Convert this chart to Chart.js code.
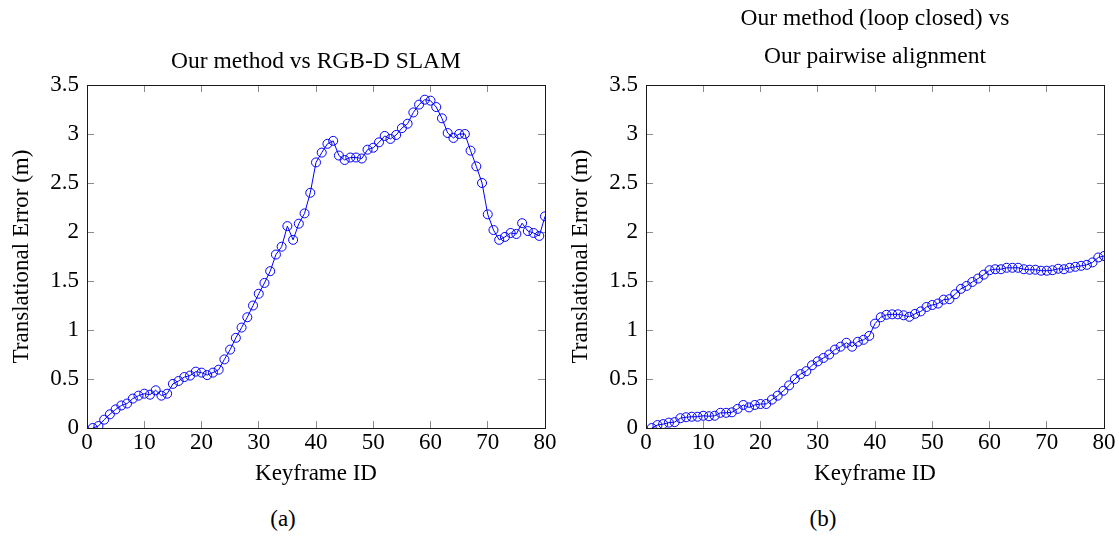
<!DOCTYPE html>
<html>
<head>
<meta charset="utf-8">
<script src="https://cdn.jsdelivr.net/npm/chart.js@4.4.1/dist/chart.umd.min.js"></script>
<style>
  html, body { margin: 0; padding: 0; background: #fff; }
  #wrap { position: relative; width: 1119px; height: 536px; overflow: hidden; background: #fff; }
  canvas { position: absolute; top: 0; }
  .cap { position: absolute; font-family: "Liberation Serif", serif; font-size: 23px; line-height: 1; color: #000; transform: translate(-50%, -50%); white-space: nowrap; }
</style>
</head>
<body>
<div id="wrap">
  <canvas id="c1" width="565" height="490" style="left:0px"></canvas>
  <canvas id="c2" width="565" height="490" style="left:559px"></canvas>
  <div class="cap" style="left:283px; top:518px">(a)</div>
  <div class="cap" style="left:823px; top:518px">(b)</div>
</div>
<script>
// ---- data ----
const keyframes = [1,2,3,4,5,6,7,8,9,10,11,12,13,14,15,16,17,18,19,20,
  21,22,23,24,25,26,27,28,29,30,31,32,33,34,35,36,37,38,39,40,
  41,42,43,44,45,46,47,48,49,50,51,52,53,54,55,56,57,58,59,60,
  61,62,63,64,65,66,67,68,69,70,71,72,73,74,75,76,77,78,79,80];

const errorVsRgbdSlam = [0.00,0.02,0.085,0.14,0.19,0.23,0.25,0.30,0.33,0.35,
  0.34,0.385,0.33,0.35,0.45,0.48,0.52,0.535,0.575,0.565,
  0.54,0.565,0.595,0.70,0.80,0.92,1.025,1.13,1.25,1.37,
  1.48,1.60,1.77,1.85,2.06,1.92,2.085,2.19,2.40,2.71,
  2.81,2.90,2.93,2.78,2.735,2.76,2.76,2.75,2.84,2.86,
  2.915,2.98,2.95,2.99,3.06,3.105,3.22,3.30,3.35,3.34,
  3.275,3.16,3.01,2.96,3.00,3.00,2.83,2.67,2.50,2.18,
  2.02,1.92,1.95,1.99,1.98,2.09,2.01,1.99,1.96,2.16];

const errorVsPairwise = [0.00,0.03,0.04,0.055,0.06,0.10,0.11,0.115,0.115,0.125,
  0.12,0.125,0.155,0.155,0.16,0.195,0.235,0.21,0.235,0.245,
  0.245,0.29,0.33,0.38,0.435,0.50,0.55,0.58,0.64,0.68,
  0.715,0.75,0.80,0.83,0.87,0.83,0.88,0.90,0.94,1.065,
  1.13,1.155,1.16,1.16,1.15,1.135,1.165,1.19,1.235,1.255,
  1.27,1.31,1.315,1.365,1.42,1.45,1.49,1.525,1.565,1.61,
  1.62,1.62,1.635,1.635,1.635,1.62,1.615,1.615,1.605,1.605,
  1.61,1.625,1.62,1.635,1.645,1.655,1.665,1.69,1.74,1.755];

const xTickLabels = ['0','10','20','30','40','50','60','70','80'];
const yTickLabels = ['0','0.5','1','1.5','2','2.5','3','3.5'];

const titleLeft = 'Our method vs RGB-D SLAM';
const titleRight = ['Our method (loop closed) vs', 'Our pairwise alignment'];
const xTitle = 'Keyframe ID';
const yTitle = 'Translational Error (m)';

// ---- styling ----
const FONT = '"Liberation Serif", serif';
const TICK_COLOR = '#8c8c8c';
const BORDER_COLOR = '#1a1a1a';
const TICK_LEN = -7;

function toPoints(values) {
  return keyframes.map((k, i) => ({ x: k, y: values[i] }));
}

function makeScales() {
  const gridOpts = { drawOnChartArea: false, drawTicks: true, tickLength: TICK_LEN, color: TICK_COLOR, lineWidth: 1 };
  const borderOpts = { display: true, color: BORDER_COLOR, width: 1 };
  return {
    x: {
      type: 'linear', position: 'bottom', min: 0, max: 80,
      ticks: { stepSize: 10, autoSkip: false, maxRotation: 0, color: '#000', padding: 8.5,
               font: { family: FONT, size: 23 },
               callback: (v, i) => xTickLabels[i] },
      grid: gridOpts, border: borderOpts,
      title: { display: true, text: xTitle, color: '#000', font: { family: FONT, size: 23 }, padding: { top: 0, bottom: 2 } },
      afterFit: s => { s.height = 62; }
    },
    x2: {
      type: 'linear', position: 'top', min: 0, max: 80,
      ticks: { stepSize: 10, display: false },
      grid: gridOpts, border: borderOpts,
      afterFit: s => { s.height = 0; }
    },
    y: {
      type: 'linear', position: 'left', min: 0, max: 3.5,
      ticks: { stepSize: 0.5, autoSkip: false, color: '#000', padding: 15,
               font: { family: FONT, size: 23 },
               callback: (v, i) => yTickLabels[i] },
      grid: gridOpts, border: borderOpts,
      title: { display: true, text: yTitle, color: '#000', font: { family: FONT, size: 23 }, padding: { top: 8, bottom: 0 } },
      afterFit: s => { s.width = 87; }
    },
    y2: {
      type: 'linear', position: 'right', min: 0, max: 3.5,
      ticks: { stepSize: 0.5, display: false },
      grid: gridOpts, border: borderOpts,
      afterFit: s => { s.width = 0; }
    }
  };
}

function makeChart(id, values, title, titlePadding) {
  return new Chart(document.getElementById(id), {
    type: 'line',
    data: {
      datasets: [{
        data: toPoints(values),
        borderColor: '#0000ff',
        borderWidth: 1,
        pointRadius: 4.5,
        pointBorderWidth: 1,
        pointBorderColor: '#0000ff',
        pointBackgroundColor: 'rgba(0,0,0,0)',
        tension: 0,
        fill: false,
        xAxisID: 'x', yAxisID: 'y'
      }]
    },
    options: {
      responsive: false,
      devicePixelRatio: 1,
      animation: false,
      layout: { padding: { left: 0, right: 0, top: 0, bottom: 0 } },
      scales: makeScales(),
      plugins: {
        legend: { display: false },
        tooltip: { enabled: false },
        title: {
          display: true, text: title, color: '#000', fullSize: false,
          font: { family: FONT, size: 23.5, weight: 'normal', lineHeight: '38px' },
          padding: titlePadding
        }
      }
    }
  });
}

makeChart('c1', errorVsRgbdSlam, titleLeft, { top: 43, bottom: 4 });
makeChart('c2', errorVsPairwise, titleRight, { top: 0, bottom: 9 });
</script>
</body>
</html>
